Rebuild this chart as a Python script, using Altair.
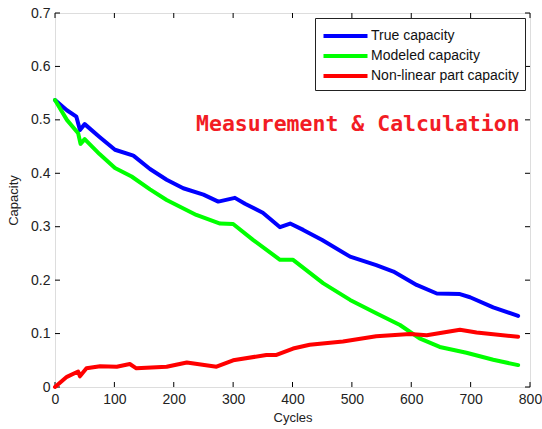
import altair as alt
import pandas as pd

# Capacity fade over cycling: measured, modelled and the non-linear residual
TRUE_CYCLES = [0, 20, 36, 42, 50, 75, 101, 132, 160, 188, 216, 250, 275, 303, 320, 350,
               379, 396, 418, 450, 497, 541, 570, 609, 643, 682, 699, 738, 780]
TRUE_CAP = [0.537, 0.518, 0.506, 0.481, 0.492, 0.468, 0.444, 0.433, 0.408, 0.388, 0.372,
            0.360, 0.347, 0.354, 0.343, 0.326, 0.299, 0.306, 0.294, 0.275, 0.244, 0.228,
            0.216, 0.191, 0.175, 0.174, 0.168, 0.149, 0.133]

MODEL_CYCLES = [0, 20, 39, 43, 50, 75, 101, 129, 160, 188, 238, 278, 300, 334, 379, 401,
                452, 497, 541, 581, 614, 648, 693, 738, 780]
MODEL_CAP = [0.537, 0.500, 0.475, 0.455, 0.464, 0.436, 0.410, 0.394, 0.370, 0.350, 0.322,
             0.306, 0.305, 0.275, 0.238, 0.238, 0.194, 0.163, 0.138, 0.116, 0.091, 0.075,
             0.064, 0.051, 0.041]

NONLIN_CYCLES = [0, 20, 39, 42, 53, 76, 104, 126, 137, 188, 222, 272, 300, 356, 373, 401,
                 429, 485, 541, 598, 626, 682, 710, 780]
NONLIN_CAP = [0.000, 0.019, 0.029, 0.020, 0.035, 0.039, 0.038, 0.043, 0.035, 0.038, 0.046,
              0.038, 0.050, 0.060, 0.060, 0.072, 0.079, 0.085, 0.095, 0.099, 0.097, 0.107,
              0.102, 0.094]

SERIES = ["True capacity", "Modeled capacity", "Non-linear part capacity"]
COLORS = ["#0000ff", "#00ff00", "#ff0000"]

X_TICKS = [0, 100, 200, 300, 400, 500, 600, 700, 800]
Y_TICKS = [0, 0.1, 0.2, 0.3, 0.4, 0.5, 0.6, 0.7]

NOTE = "Measurement & Calculation"
NOTE_X = 510
NOTE_Y = 0.49

W, H = 475, 374
FONT = "Liberation Sans"
TXT = "#222"

rows = []
for name, xs, ys in zip(SERIES, [TRUE_CYCLES, MODEL_CYCLES, NONLIN_CYCLES],
                        [TRUE_CAP, MODEL_CAP, NONLIN_CAP]):
    for i, (c, v) in enumerate(zip(xs, ys)):
        rows.append({"series": name, "cycle": c, "capacity": v, "order": i})
df = pd.DataFrame(rows)

x_scale = alt.Scale(domain=[0, 800], nice=False)
y_scale = alt.Scale(domain=[0, 0.7], nice=False)

axis_style = dict(ticks=False, domain=False, grid=False, labelFlush=False,
                  labelFont=FONT, labelFontSize=14, labelColor=TXT,
                  titleFont=FONT, titleFontSize=13, titleColor=TXT,
                  titleFontWeight="normal")

# long horizontal swatch: a custom path wider than the symbol's unit box
SWATCH = "M-0.95,0L3.45,0"

lines = alt.Chart(df).mark_line(strokeWidth=4, strokeJoin="round", strokeCap="round").encode(
    x=alt.X("cycle:Q", scale=x_scale, title="Cycles",
            axis=alt.Axis(values=X_TICKS, labelPadding=5, titlePadding=5, format="d",
                          **axis_style)),
    y=alt.Y("capacity:Q", scale=y_scale, title="Capacity",
            axis=alt.Axis(values=Y_TICKS, labelPadding=5, titlePadding=10, format="~g",
                          **axis_style)),
    color=alt.Color("series:N", scale=alt.Scale(domain=SERIES, range=COLORS),
                    legend=alt.Legend(title=None, orient="top-right", offset=5,
                                      symbolType=SWATCH, symbolSize=400,
                                      symbolStrokeWidth=4, labelFontSize=14,
                                      labelFont=FONT, labelColor="#111",
                                      strokeColor="#222", fillColor="white",
                                      padding=6, rowPadding=0, labelOffset=26)),
    order="order:Q",
)

# inward tick marks on all four sides of the box
xt = pd.DataFrame({"t": X_TICKS})
yt = pd.DataFrame({"t": Y_TICKS})
tick_col = "#000"
xb = alt.Chart(xt).mark_rule(color=tick_col).encode(
    x=alt.X("t:Q", scale=x_scale), y=alt.value(H), y2=alt.value(H - 5))
xtop = alt.Chart(xt).mark_rule(color=tick_col).encode(
    x=alt.X("t:Q", scale=x_scale), y=alt.value(0), y2=alt.value(5))
yl = alt.Chart(yt).mark_rule(color=tick_col).encode(
    y=alt.Y("t:Q", scale=y_scale), x=alt.value(0), x2=alt.value(5))
yr = alt.Chart(yt).mark_rule(color=tick_col).encode(
    y=alt.Y("t:Q", scale=y_scale), x=alt.value(W), x2=alt.value(W - 5))

note = alt.Chart(pd.DataFrame({"x": [NOTE_X], "y": [NOTE_Y], "t": [NOTE]})).mark_text(
    font="DejaVu Sans Mono", fontWeight="bold", fontSize=21.5, color="#f21c24",
    align="center", baseline="middle").encode(
    x=alt.X("x:Q", scale=x_scale), y=alt.Y("y:Q", scale=y_scale), text="t:N")

chart = alt.layer(xb, xtop, yl, yr, lines, note).properties(
    width=W, height=H,
    autosize=alt.AutoSizeParams(type="none"),
    padding={"left": 55, "top": 13, "right": 12, "bottom": 42},
).configure_view(stroke="#000", strokeWidth=1).configure(background="white")

chart.save("out.html", embed_options={"renderer": "svg", "actions": False})
